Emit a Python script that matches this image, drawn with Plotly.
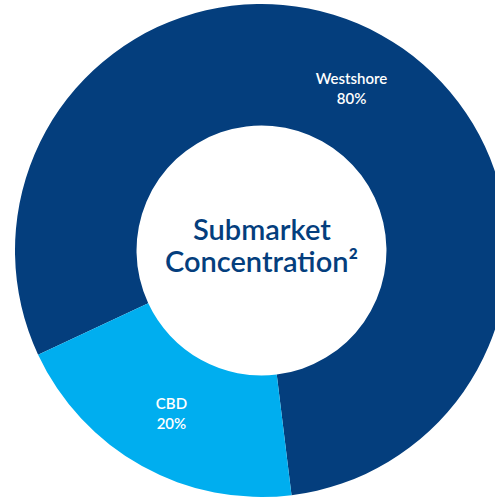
import plotly.graph_objects as go

# Data
labels = ["Westshore", "CBD"]
values = [80, 20]
colors = ["#043E7D", "#00AEEF"]
center_lines = ["Submarket", "Concentration²"]

fig = go.Figure(
    go.Pie(
        labels=labels,
        values=values,
        hole=0.507,
        sort=False,
        direction="clockwise",
        rotation=245,
        marker=dict(colors=colors, line=dict(width=0)),
        textinfo="label+percent",
        textposition="inside",
        insidetextorientation="horizontal",
        textfont=dict(family="Lato", size=15, color="white", weight=600),
        hoverinfo="label+percent",
        showlegend=False,
    )
)

# pixel rows of the two centre lines, converted to paper fraction of the 493px plot area
plot_top, plot_h = 4, 493
for line, py in zip(center_lines, [228, 260]):
    fig.add_annotation(
        text=line,
        x=0.5, y=(plot_top + plot_h - py) / plot_h, xref="paper", yref="paper",
        yanchor="middle",
        showarrow=False,
        font=dict(family="Lato", size=29, color="#043E7D", weight=600),
    )

fig.update_layout(
    width=523,
    height=500,
    margin=dict(l=0, r=0, t=4, b=3),
    paper_bgcolor="white",
    plot_bgcolor="white",
    showlegend=False,
)

fig.write_html(
    "out.html",
    config={"displayModeBar": False},
    post_script="document.body.style.margin='0';document.body.style.overflow='hidden';document.documentElement.style.overflow='hidden';",
)
